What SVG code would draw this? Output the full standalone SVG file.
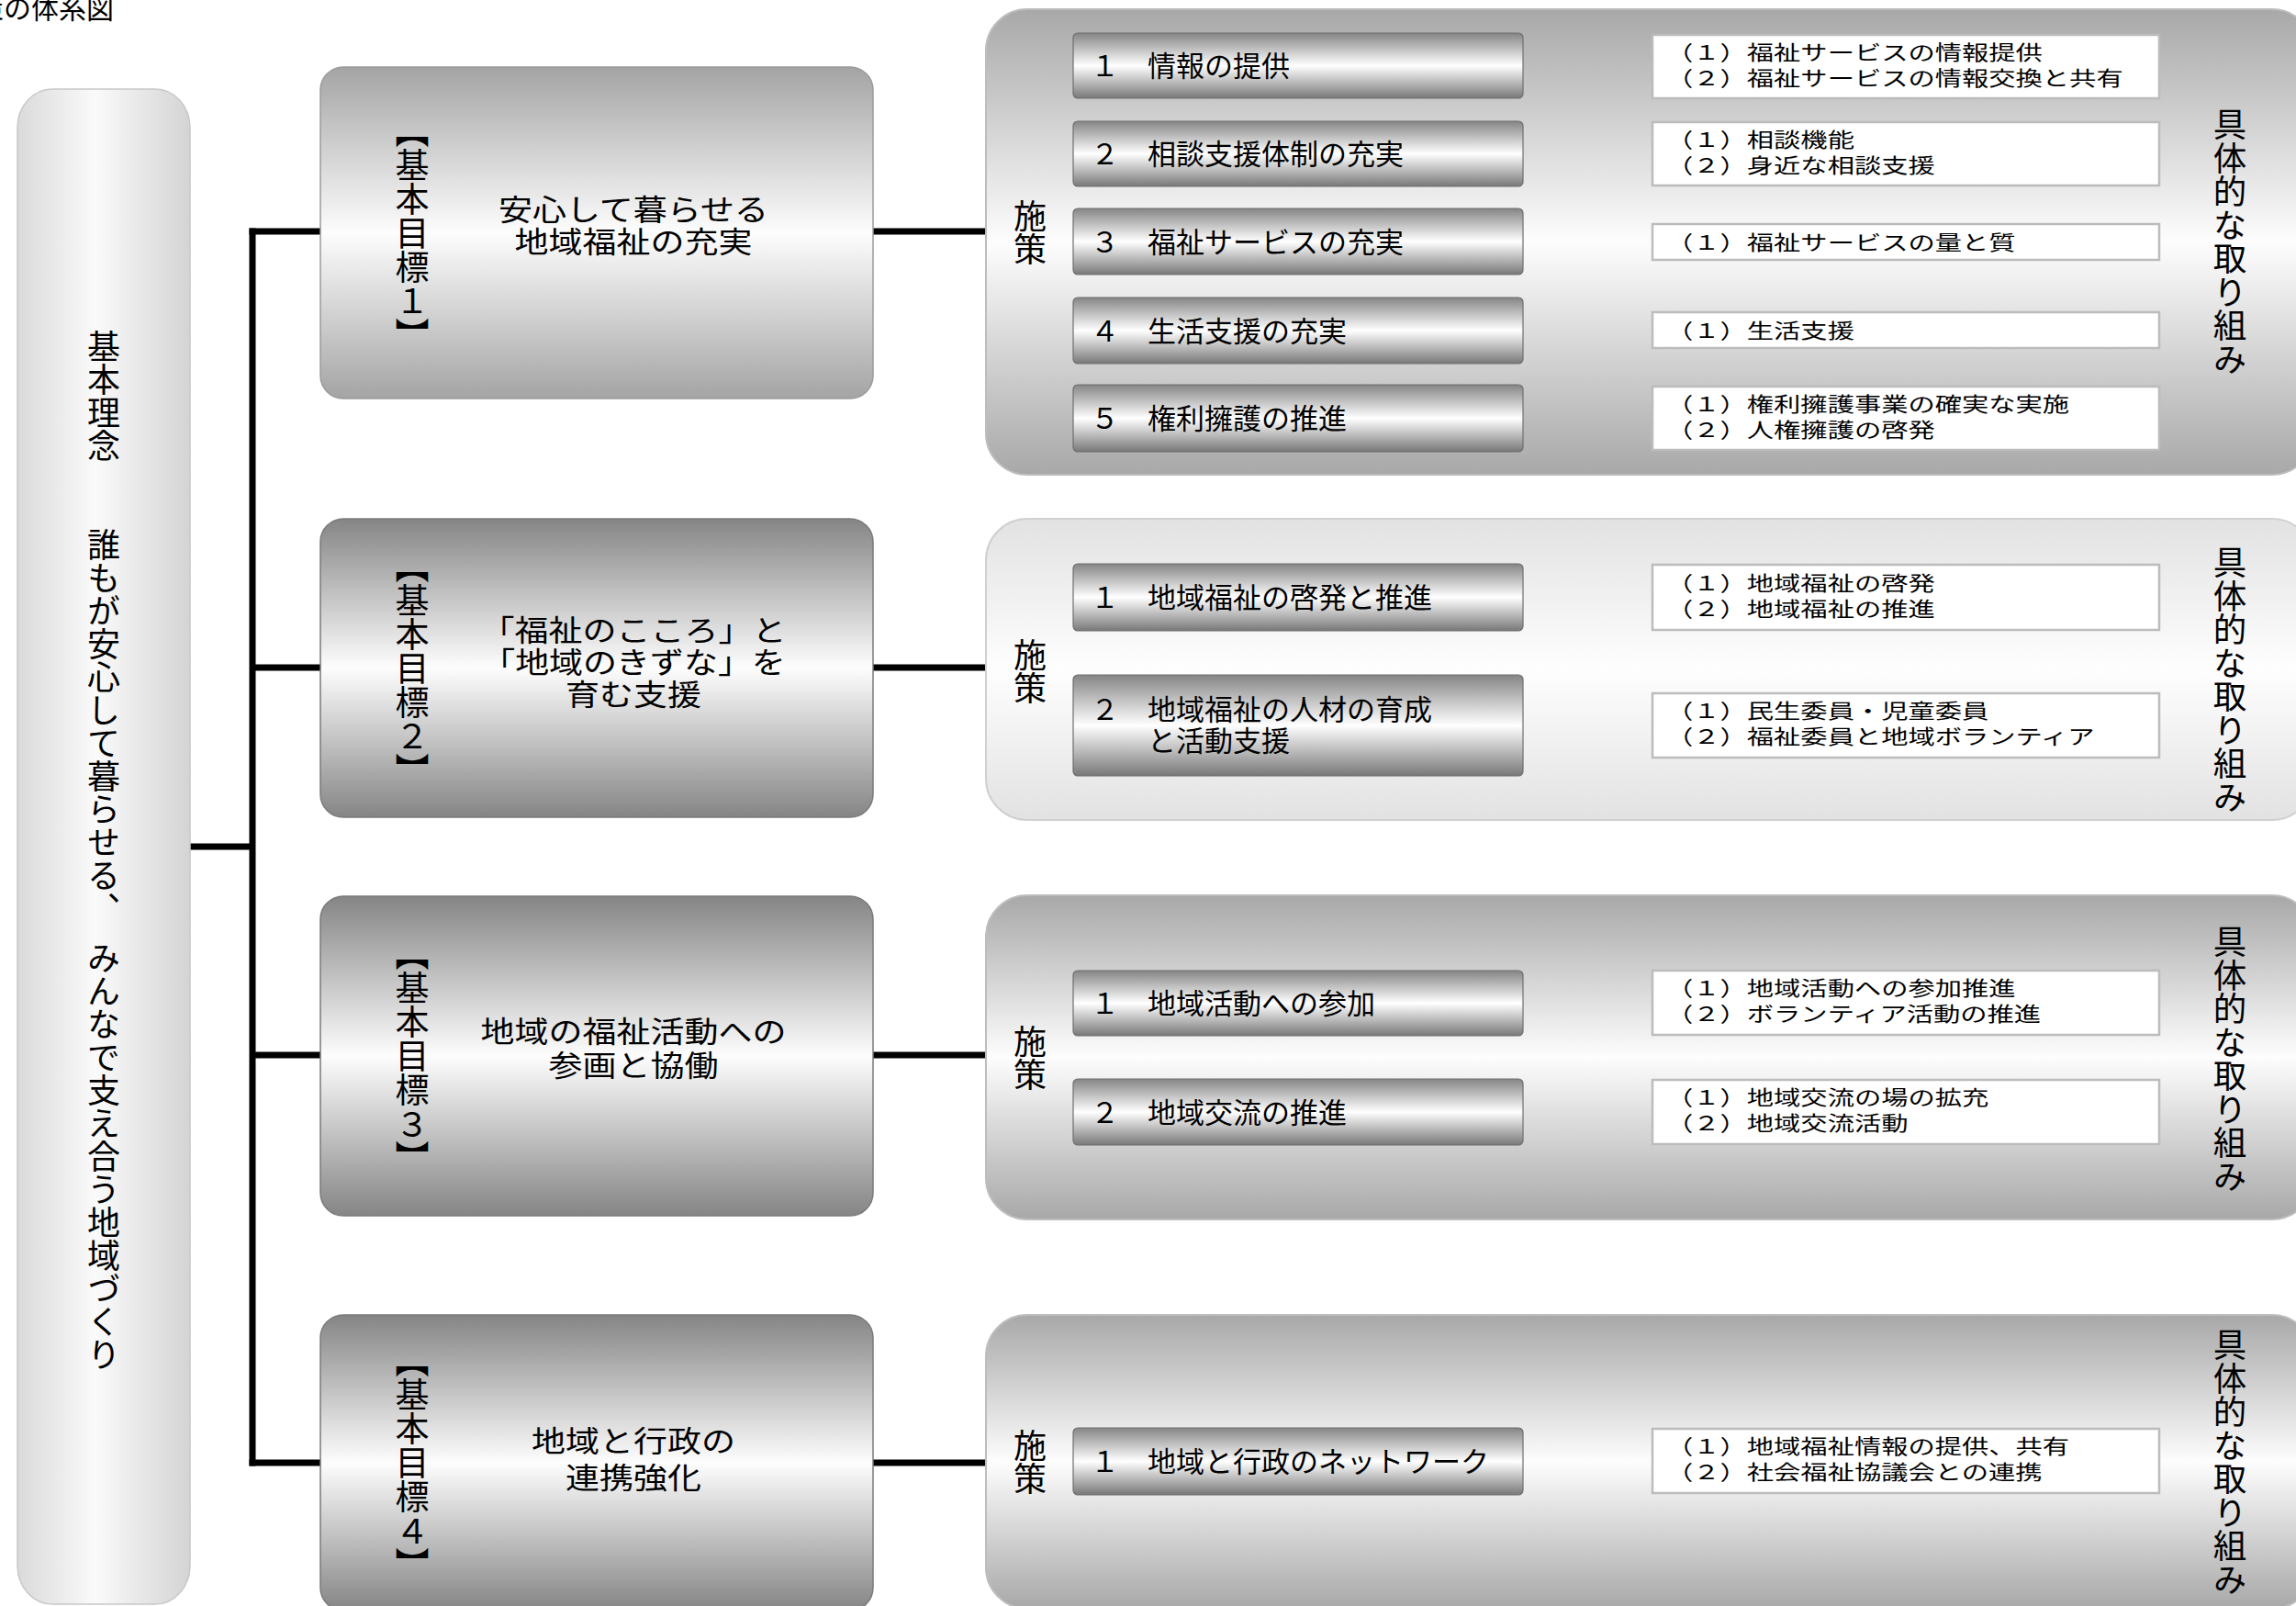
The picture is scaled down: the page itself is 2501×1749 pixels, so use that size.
<svg xmlns="http://www.w3.org/2000/svg" width="2501" height="1749" viewBox="0 0 2501 1749">
<defs>
<linearGradient id="gPill" x1="0" y1="0" x2="1" y2="0">
<stop offset="0" stop-color="#dadada"/><stop offset="0.45" stop-color="#fafafa"/><stop offset="1" stop-color="#d4d4d4"/>
</linearGradient>
<linearGradient id="gGoal1" x1="0" y1="0" x2="0" y2="1">
<stop offset="0" stop-color="#a4a4a4"/><stop offset="0.5" stop-color="#fdfdfd"/><stop offset="1" stop-color="#a4a4a4"/>
</linearGradient>
<linearGradient id="gGoal" x1="0" y1="0" x2="0" y2="1">
<stop offset="0" stop-color="#858585"/><stop offset="0.5" stop-color="#fdfdfd"/><stop offset="1" stop-color="#858585"/>
</linearGradient>
<linearGradient id="gPanel" x1="0" y1="0" x2="0" y2="1">
<stop offset="0" stop-color="#a8a8a8"/><stop offset="0.5" stop-color="#fdfdfd"/><stop offset="1" stop-color="#a8a8a8"/>
</linearGradient>
<linearGradient id="gPanelLight" x1="0" y1="0" x2="0" y2="1">
<stop offset="0" stop-color="#e2e2e2"/><stop offset="0.5" stop-color="#fefefe"/><stop offset="1" stop-color="#e2e2e2"/>
</linearGradient>
<linearGradient id="gPolicy" x1="0" y1="0" x2="0" y2="1">
<stop offset="0" stop-color="#858585"/><stop offset="0.5" stop-color="#ffffff"/><stop offset="1" stop-color="#787878"/>
</linearGradient>
<style>
text{font-family:"Noto Sans CJK JP","Noto Sans CJK SC",sans-serif;fill:#000;}
.vt{writing-mode:vertical-rl;text-anchor:middle;}
.pill{fill:url(#gPill);stroke:#c8c8c8;stroke-width:1.5;}
.goal1{fill:url(#gGoal1);stroke:#9a9a9a;stroke-width:1.5;}
.goal{fill:url(#gGoal);stroke:#7a7a7a;stroke-width:1.5;}
.panel{fill:url(#gPanel);stroke:#bdbdbd;stroke-width:2;}
.panelL{fill:url(#gPanelLight);stroke:#d0d0d0;stroke-width:2;}
.pol{fill:url(#gPolicy);stroke:#6e6e6e;stroke-width:1.2;}
.wb{fill:#fff;stroke:#bcbcbc;stroke-width:2.5;}
.conn{stroke:#000;stroke-width:7;fill:none;}
.pt{font-size:31px;}
.wt{font-size:29.3px;}
.gt{font-size:37px;text-anchor:middle;}
.lab{font-size:37px;}
.shi{font-size:36px;}
.gu{font-size:36.5px;}
</style>
</defs>

<text id="title" x="-26" y="20" style="font-size:30px">策の体系図</text>

<g id="connectors">
<line class="conn" x1="207" y1="922" x2="275" y2="922"/>
<line class="conn" x1="275" y1="248.5" x2="275" y2="1596.5"/>
<line class="conn" x1="271.5" y1="252" x2="349" y2="252"/>
<line class="conn" x1="275" y1="727" x2="349" y2="727"/>
<line class="conn" x1="275" y1="1149" x2="349" y2="1149"/>
<line class="conn" x1="271.5" y1="1593" x2="349" y2="1593"/>
<line class="conn" x1="951" y1="252" x2="1074" y2="252"/>
<line class="conn" x1="951" y1="727" x2="1074" y2="727"/>
<line class="conn" x1="951" y1="1149" x2="1074" y2="1149"/>
<line class="conn" x1="951" y1="1593" x2="1074" y2="1593"/>
<line class="conn" x1="1659" y1="72" x2="1800" y2="72"/>
<line class="conn" x1="1659" y1="167.5" x2="1800" y2="167.5"/>
<line class="conn" x1="1659" y1="263" x2="1800" y2="263"/>
<line class="conn" x1="1659" y1="360" x2="1800" y2="360"/>
<line class="conn" x1="1659" y1="455.5" x2="1800" y2="455.5"/>
<line class="conn" x1="1659" y1="650.5" x2="1800" y2="650.5"/>
<line class="conn" x1="1659" y1="789" x2="1800" y2="789"/>
<line class="conn" x1="1659" y1="1093" x2="1800" y2="1093"/>
<line class="conn" x1="1659" y1="1212" x2="1800" y2="1212"/>
<line class="conn" x1="1659" y1="1591" x2="1800" y2="1591"/>
</g>

<g id="basic-philosophy">
<rect class="pill" x="19" y="97" width="188" height="1650" rx="38" ry="42"/>
<text class="vt" x="113" y="926" style="font-size:36px">基本理念　　誰もが安心して暮らせる、　みんなで支え合う地域づくり</text>
</g>

<g id="goal1">
<rect class="goal1" x="349" y="73" width="602" height="361" rx="25"/>
<text class="vt lab" x="449" y="253.5">【基本目標１】</text>
<text class="gt" transform="translate(690 240) scale(1 0.87)"><tspan x="0" y="0">安心して暮らせる</tspan><tspan x="0" y="40.2">地域福祉の充実</tspan></text>
</g>
<g id="goal2">
<rect class="goal" x="349" y="565" width="602" height="325" rx="25"/>
<text class="vt lab" x="449" y="727.5">【基本目標２】</text>
<text class="gt" transform="translate(690 698) scale(1 0.87)"><tspan x="0" y="0">「福祉のこころ」と</tspan><tspan x="0" y="40.2">「地域のきずな」を</tspan><tspan x="0" y="80.4">育む支援</tspan></text>
</g>
<g id="goal3">
<rect class="goal" x="349" y="976" width="602" height="348" rx="25"/>
<text class="vt lab" x="449" y="1150">【基本目標３】</text>
<text class="gt" transform="translate(690 1135) scale(1 0.87)"><tspan x="0" y="0">地域の福祉活動への</tspan><tspan x="0" y="42.5">参画と協働</tspan></text>
</g>
<g id="goal4">
<rect class="goal" x="349" y="1432" width="602" height="322" rx="25"/>
<text class="vt lab" x="449" y="1593">【基本目標４】</text>
<text class="gt" transform="translate(690 1581) scale(1 0.87)"><tspan x="0" y="0">地域と行政の</tspan><tspan x="0" y="46">連携強化</tspan></text>
</g>

<g id="panel1">
<rect class="panel" x="1074" y="10" width="1446" height="507" rx="45"/>
<text class="vt shi" x="1122" y="253">施策</text>
<text class="vt gu" x="2429" y="263">具体的な取り組み</text>
</g>
<g id="panel2">
<rect class="panelL" x="1074" y="565" width="1446" height="328" rx="45"/>
<text class="vt shi" x="1122" y="731">施策</text>
<text class="vt gu" x="2429" y="740">具体的な取り組み</text>
</g>
<g id="panel3">
<rect class="panel" x="1074" y="975" width="1446" height="353" rx="45"/>
<text class="vt shi" x="1122" y="1152">施策</text>
<text class="vt gu" x="2429" y="1153">具体的な取り組み</text>
</g>
<g id="panel4">
<rect class="panel" x="1074" y="1432" width="1446" height="320" rx="45"/>
<text class="vt shi" x="1122" y="1592">施策</text>
<text class="vt gu" x="2429" y="1592">具体的な取り組み</text>
</g>

<g id="policy-1-1"><rect class="pol" x="1169" y="36" width="490" height="71" rx="5"/><text class="pt" x="1188" y="83">１　情報の提供</text></g>
<g id="policy-1-2"><rect class="pol" x="1169" y="132" width="490" height="71" rx="5"/><text class="pt" x="1188" y="179">２　相談支援体制の充実</text></g>
<g id="policy-1-3"><rect class="pol" x="1169" y="227" width="490" height="72" rx="5"/><text class="pt" x="1188" y="274.5">３　福祉サービスの充実</text></g>
<g id="policy-1-4"><rect class="pol" x="1169" y="324" width="490" height="72" rx="5"/><text class="pt" x="1188" y="371.5">４　生活支援の充実</text></g>
<g id="policy-1-5"><rect class="pol" x="1169" y="419" width="490" height="73" rx="5"/><text class="pt" x="1188" y="467">５　権利擁護の推進</text></g>
<g id="policy-2-1"><rect class="pol" x="1169" y="614" width="490" height="73" rx="5"/><text class="pt" x="1188" y="662">１　地域福祉の啓発と推進</text></g>
<g id="policy-2-2"><rect class="pol" x="1169" y="735" width="490" height="110" rx="5"/><text class="pt"><tspan x="1188" y="783.5">２　地域福祉の人材の育成</tspan><tspan x="1250" y="817.5">と活動支援</tspan></text></g>
<g id="policy-3-1"><rect class="pol" x="1169" y="1057" width="490" height="71" rx="5"/><text class="pt" x="1188" y="1104">１　地域活動への参加</text></g>
<g id="policy-3-2"><rect class="pol" x="1169" y="1175" width="490" height="72" rx="5"/><text class="pt" x="1188" y="1222.5">２　地域交流の推進</text></g>
<g id="policy-4-1"><rect class="pol" x="1169" y="1555" width="490" height="73" rx="5"/><text class="pt" x="1188" y="1603">１　地域と行政のネットワーク</text></g>

<g id="action-1-1"><rect class="wb" x="1800" y="38" width="552" height="69"/><text class="wt" transform="translate(1815 64.9) scale(1 0.75)"><tspan x="0" y="0">（１）福祉サービスの情報提供</tspan><tspan x="0" y="37.3">（２）福祉サービスの情報交換と共有</tspan></text></g>
<g id="action-1-2"><rect class="wb" x="1800" y="133" width="552" height="69"/><text class="wt" transform="translate(1815 159.9) scale(1 0.75)"><tspan x="0" y="0">（１）相談機能</tspan><tspan x="0" y="37.3">（２）身近な相談支援</tspan></text></g>
<g id="action-1-3"><rect class="wb" x="1800" y="244" width="552" height="39"/><text class="wt" transform="translate(1815 272) scale(1 0.75)">（１）福祉サービスの量と質</text></g>
<g id="action-1-4"><rect class="wb" x="1800" y="340" width="552" height="39"/><text class="wt" transform="translate(1815 368) scale(1 0.75)">（１）生活支援</text></g>
<g id="action-1-5"><rect class="wb" x="1800" y="421" width="552" height="69"/><text class="wt" transform="translate(1815 447.9) scale(1 0.75)"><tspan x="0" y="0">（１）権利擁護事業の確実な実施</tspan><tspan x="0" y="37.3">（２）人権擁護の啓発</tspan></text></g>
<g id="action-2-1"><rect class="wb" x="1800" y="615" width="552" height="71"/><text class="wt" transform="translate(1815 642.9) scale(1 0.75)"><tspan x="0" y="0">（１）地域福祉の啓発</tspan><tspan x="0" y="37.3">（２）地域福祉の推進</tspan></text></g>
<g id="action-2-2"><rect class="wb" x="1800" y="755" width="552" height="70"/><text class="wt" transform="translate(1815 782.4) scale(1 0.75)"><tspan x="0" y="0">（１）民生委員・児童委員</tspan><tspan x="0" y="37.3">（２）福祉委員と地域ボランティア</tspan></text></g>
<g id="action-3-1"><rect class="wb" x="1800" y="1057" width="552" height="70"/><text class="wt" transform="translate(1815 1084.4) scale(1 0.75)"><tspan x="0" y="0">（１）地域活動への参加推進</tspan><tspan x="0" y="37.3">（２）ボランティア活動の推進</tspan></text></g>
<g id="action-3-2"><rect class="wb" x="1800" y="1176" width="552" height="70"/><text class="wt" transform="translate(1815 1203.4) scale(1 0.75)"><tspan x="0" y="0">（１）地域交流の場の拡充</tspan><tspan x="0" y="37.3">（２）地域交流活動</tspan></text></g>
<g id="action-4-1"><rect class="wb" x="1800" y="1556" width="552" height="70"/><text class="wt" transform="translate(1815 1583.4) scale(1 0.75)"><tspan x="0" y="0">（１）地域福祉情報の提供、共有</tspan><tspan x="0" y="37.3">（２）社会福祉協議会との連携</tspan></text></g>
</svg>
